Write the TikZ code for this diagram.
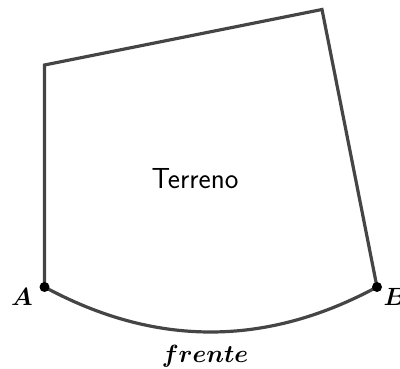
\documentclass[tikz,border=0pt]{standalone}
\usepackage{tikz}
\definecolor{edgegray}{HTML}{454545}
\begin{document}
\begin{tikzpicture}[x=1pt,y=-1pt,
  edge/.style={draw=edgegray,line width=3.2pt,line join=miter},
  pt/.style={circle,fill=black,inner sep=0pt,minimum size=10pt},
  lbl/.style={font=\fontsize{29}{32}\selectfont\boldmath},
  big/.style={font=\fontsize{33}{36}\selectfont\boldmath},
  txt/.style={font=\fontsize{29}{32}\selectfont\sffamily}]
\useasboundingbox (0,0) rectangle (400,369);
\coordinate (A) at (44.5,287);
\coordinate (TL) at (44.5,65);
\coordinate (TR) at (322,9.5);
\coordinate (B) at (377,287);
\draw[edge] (A) -- (TL) -- (TR) -- (B);
\draw[edge] (A) .. controls (155.2,347) and (266,347) .. (B);
\node[pt] (pA) at (A) {};
\node[pt] (pB) at (B) {};
\node[lbl] (lA) at (22,297) {$A$};
\node[lbl] (lB) at (395,297) {$B$};
\node[big] (lf) at (205,356) {$frente$};
\node[txt] (t) at (195,179) {Terreno};
\end{tikzpicture}
\end{document}
